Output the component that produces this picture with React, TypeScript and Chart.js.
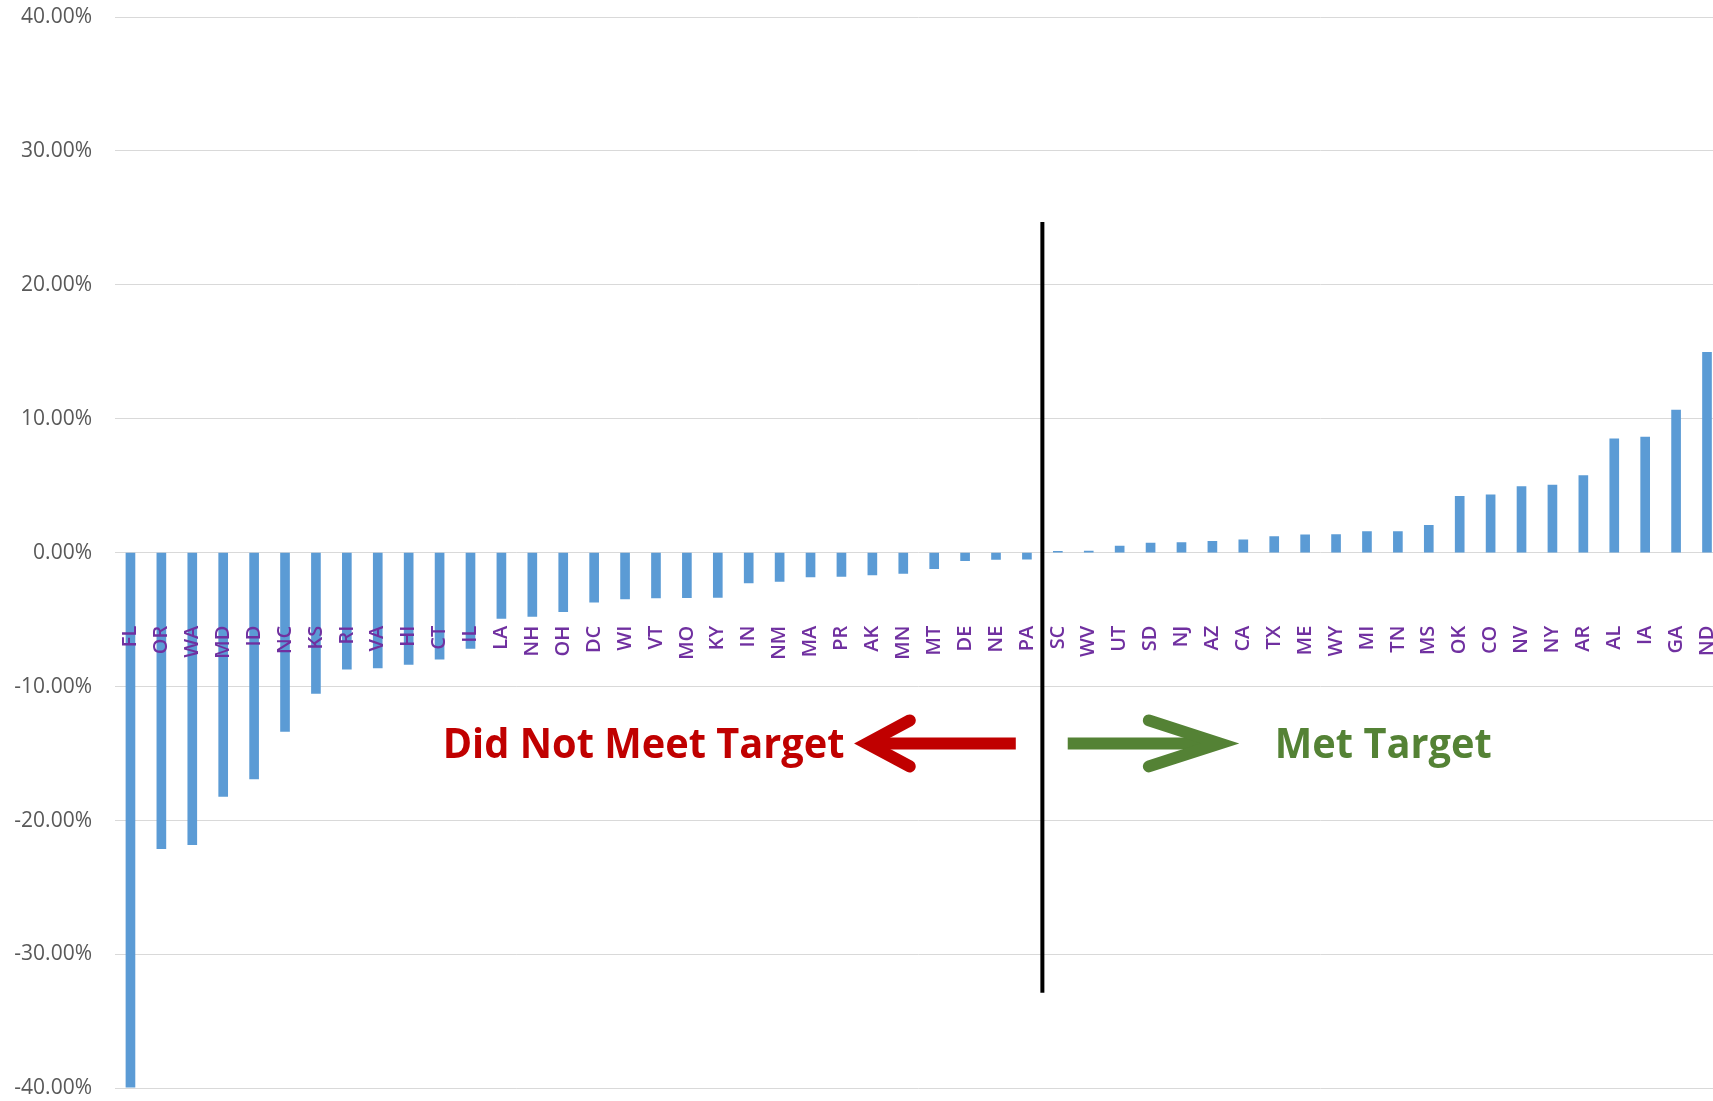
import React, { useEffect, useRef } from "react";
import { Chart, registerables } from "chart.js";

Chart.register(...registerables);

const states = [
  "FL", "OR", "WA", "MD", "ID", "NC", "KS", "RI", "VA", "HI", "CT", "IL", "LA",
  "NH", "OH", "DC", "WI", "VT", "MO", "KY", "IN", "NM", "MA", "PR", "AK", "MN",
  "MT", "DE", "NE", "PA", "SC", "WV", "UT", "SD", "NJ", "AZ", "CA", "TX", "ME",
  "WY", "MI", "TN", "MS", "OK", "CO", "NV", "NY", "AR", "AL", "IA", "GA", "ND",
];

const changePct = [
  -39.9, -22.1, -21.8, -18.2, -16.9, -13.35, -10.5, -8.7, -8.6, -8.35, -7.95, -7.15, -4.9,
  -4.75, -4.4, -3.7, -3.45, -3.38, -3.36, -3.34, -2.25, -2.15, -1.8, -1.78, -1.65, -1.55,
  -1.2, -0.6, -0.5, -0.48, 0.1, 0.12, 0.5, 0.72, 0.75, 0.85, 0.97, 1.2, 1.34,
  1.35, 1.57, 1.58, 2.04, 4.2, 4.33, 4.93, 5.05, 5.75, 8.5, 8.63, 10.65, 14.96,
];

const yMin = -40;
const yMax = 40;
const yStep = 10;

// Annotation anchors (category-index units on x, percent values on y)
const dividerX = 29.5;
const dividerTop = 24.7;
const dividerBottom = -32.85;
const arrowY = -14.24;
const redArrowTail = 28.64;
const redArrowTip = 23.69;
const greenArrowTail = 30.32;
const greenArrowTip = 35.37;
const redTextLeft = 10.1;
const redTextRight = 23.1;
const greenTextLeft = 37.02;
const redLabel = "Did Not Meet Target";
const greenLabel = "Met Target";

const annotationPlugin = {
  id: "targetAnnotations",
  afterDatasetsDraw(chart: any) {
    const { ctx } = chart;
    const xs = chart.scales.x;
    const ys = chart.scales.y;
    ctx.save();

    // divider line
    const dx = xs.getPixelForValue(dividerX);
    ctx.strokeStyle = "#000000";
    ctx.lineWidth = 4;
    ctx.lineCap = "butt";
    ctx.beginPath();
    ctx.moveTo(dx, ys.getPixelForValue(dividerTop));
    ctx.lineTo(dx, ys.getPixelForValue(dividerBottom));
    ctx.stroke();

    const ay = ys.getPixelForValue(arrowY);
    const drawArrow = (tail: number, tip: number, color: string, headLen: number) => {
      const tx = xs.getPixelForValue(tail);
      const px = xs.getPixelForValue(tip);
      const dir = px > tx ? 1 : -1;
      ctx.strokeStyle = color;
      ctx.lineWidth = 12;
      ctx.lineCap = "butt";
      ctx.beginPath();
      ctx.moveTo(tx, ay);
      ctx.lineTo(px - dir * 8, ay);
      ctx.stroke();
      ctx.lineCap = "round";
      ctx.lineJoin = "miter";
      ctx.miterLimit = 10;
      ctx.beginPath();
      ctx.moveTo(px - dir * headLen, ay - 23);
      ctx.lineTo(px - dir * 4, ay);
      ctx.lineTo(px - dir * headLen, ay + 23);
      ctx.stroke();
    };
    drawArrow(redArrowTail, redArrowTip, "#C00000", 47);
    drawArrow(greenArrowTail, greenArrowTip, "#548235", 75);

    // texts: cap height ~30px, width fitted to the reference span
    const size = 42;
    ctx.font = `bold ${size}px "Open Sans"`;
    const measured = ctx.measureText(redLabel).width;
    const rightX = xs.getPixelForValue(redTextRight);
    const targetW = rightX - xs.getPixelForValue(redTextLeft);
    const sx = targetW / measured;
    const baseline = ay + (size * 0.714) / 2;
    ctx.textBaseline = "alphabetic";

    ctx.save();
    ctx.translate(rightX, baseline);
    ctx.scale(sx, 1);
    ctx.fillStyle = "#C00000";
    ctx.textAlign = "right";
    ctx.fillText(redLabel, 0, 0);
    ctx.restore();

    ctx.save();
    ctx.translate(xs.getPixelForValue(greenTextLeft), baseline);
    ctx.scale(sx, 1);
    ctx.fillStyle = "#548235";
    ctx.textAlign = "left";
    ctx.fillText(greenLabel, 0, 0);
    ctx.restore();

    ctx.restore();
  },
};

export default function App() {
  const ref = useRef<HTMLCanvasElement | null>(null);

  useEffect(() => {
    if (!ref.current) return;
    const chart = new Chart(ref.current, {
      type: "bar",
      data: {
        labels: states,
        datasets: [
          {
            data: changePct,
            backgroundColor: "#5B9BD5",
            borderWidth: 0,
            barThickness: 9,
          },
        ],
      },
      options: {
        responsive: false,
        animation: false,
        devicePixelRatio: 1,
        layout: { padding: { top: 17, bottom: 11, left: 0, right: 0 } },
        plugins: {
          legend: { display: false },
          tooltip: { enabled: false },
        },
        scales: {
          x: {
            type: "category",
            position: { y: 0 } as any,
            offset: true,
            grid: { display: false, drawTicks: true, tickLength: 73 },
            border: { display: false },
            ticks: {
              z: 1,
              autoSkip: false,
              minRotation: 90,
              maxRotation: 90,
              padding: 0,
              color: "#7030A0",
              font: { family: '"Open Sans"', size: 20, weight: "600" },
            },
          },
          y: {
            min: yMin,
            max: yMax,
            grid: {
              color: "#D9D9D9",
              lineWidth: 1,
              drawTicks: true,
              tickLength: 23,
              tickColor: "rgba(0,0,0,0)",
            },
            border: { display: false },
            ticks: {
              stepSize: yStep,
              padding: 0,
              color: "#595959",
              font: { family: '"Open Sans"', size: 21 },
              callback: (v: any) => Number(v).toFixed(2) + "%",
            },
            afterFit: (s: any) => {
              s.width = 115;
            },
          },
        },
      },
      plugins: [annotationPlugin],
    });
    return () => chart.destroy();
  }, []);

  return (
    <div
      style={{
        position: "fixed",
        left: 0,
        top: 0,
        width: 1713,
        height: 1101,
        overflow: "hidden",
        background: "#ffffff",
      }}
    >
      <canvas ref={ref} width={1731} height={1101} style={{ display: "block" }} />
    </div>
  );
}
